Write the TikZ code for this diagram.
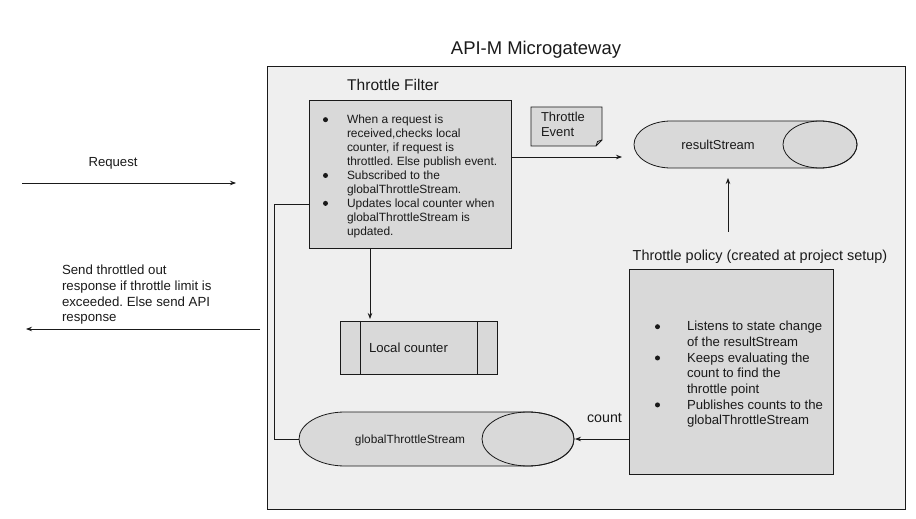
\documentclass[tikz,border=0pt]{standalone}
\usepackage{fontspec}
\setmainfont{Liberation Sans}
\usetikzlibrary{arrows.meta}
\frenchspacing
\definecolor{gwfill}{HTML}{EFEFEF}
\definecolor{boxfill}{HTML}{D9D9D9}
\definecolor{ink}{HTML}{1A1A1A}
\newcommand{\fsz}[2]{\fontsize{#1}{#2}\selectfont}
\newcommand{\blt}{\raisebox{0.25ex}{\tikz\fill[ink] (0,0) circle (2.5bp);}}
\begin{document}
\begin{tikzpicture}[x=1bp,y=-1bp,
  every node/.style={inner sep=0pt, outer sep=0pt, text=ink},
  line/.style={draw=ink, line width=0.8bp},
  arr/.style={line, -{Stealth[length=6bp,width=4.5bp]}},
  container/.style={draw=ink, line width=0.8bp, fill=gwfill},
  grey/.style={draw=ink, line width=0.8bp, fill=boxfill},
  blist/.style={anchor=north west, align=left},
]
\useasboundingbox (0,0) rectangle (916,519);
% gateway container
\node[container, minimum width=638bp, minimum height=443bp] (gw) at (586,287.5) {};
\node[font=\fsz{18.5}{22}] (title) at (536,50) {API-M Microgateway};

% Throttle filter
\node[font=\fsz{15.6}{18}] (ftitle) at (393,85) {Throttle Filter};
\node[grey, minimum width=202bp, minimum height=148bp] (filter) at (410,174) {};
\node[blist, font=\fsz{12}{14}] (ftext) at (323,114) {%
\begin{tabular}{@{}p{24bp}@{}l@{}}
\blt & When a request is\\
 & received,checks local\\
 & counter, if request is\\
 & throttled. Else publish event.\\
\blt & Subscribed to the\\
 & globalThrottleStream.\\
\blt & Updates local counter when\\
 & globalThrottleStream is\\
 & updated.
\end{tabular}};

% Throttle event note
\filldraw[grey] (531,107) -- (602,107) -- (602,140) -- (596,146) -- (531,146) -- cycle;
\draw[line] (596,146) -- (597.5,141.5) -- (602,140);
\node[blist, font=\fsz{13}{15}] (event) at (541,112.5) {Throttle\\Event};

% resultStream cylinder
\filldraw[grey] (671,121) -- (820,121) arc (-90:90:37 and 23.5) -- (671,168) arc (90:270:37 and 23.5) -- cycle;
\draw[line] (820,144.5) ellipse (37 and 23.5);
\node[font=\fsz{13}{15}] (rs) at (718,144.5) {resultStream};
\coordinate (rsW) at (634,157);
\coordinate (rsS) at (728,168);

% Throttle policy
\node[font=\fsz{14.5}{17}] (ptitle) at (760,257) {Throttle policy (created at project setup)};
\node[grey, minimum width=204bp, minimum height=205bp] (policy) at (731,371.5) {};
\node[blist, font=\fsz{13.2}{15.7}] (ptext) at (655,320) {%
\begin{tabular}{@{}p{32bp}@{}l@{}}
\blt & Listens to state change\\
 & of the resultStream\\
\blt & Keeps evaluating the\\
 & count to find the\\
 & throttle point\\
\blt & Publishes counts to the\\
 & globalThrottleStream
\end{tabular}};

% Local counter
\node[grey, minimum width=157bp, minimum height=53bp] (lc) at (418.5,347.5) {};
\draw[line] (360,321) -- (360,374) (477,321) -- (477,374);
\node[anchor=west, font=\fsz{13.2}{15}] (lctext) at (369,347.5) {Local counter};

% globalThrottleStream cylinder
\filldraw[grey] (345,412) -- (528,412) arc (-90:90:46 and 27) -- (345,466) arc (90:270:46 and 27) -- cycle;
\draw[line] (528,439) ellipse (46 and 27);
\node[font=\fsz{11.9}{14}] (gts) at (410,440) {globalThrottleStream};
\coordinate (gtsW) at (299,439);
\coordinate (gtsE) at (574,439);
\node[font=\fsz{14.3}{16}] (count) at (604.5,418) {count};

% connectors
\draw[arr, shorten >=12bp] (filter.east |- rsW) -- (rsW);
\draw[arr, shorten >=10bp] (728,232) -- (rsS);
\draw[arr, shorten >=2bp] (filter.south -| 370,0) -- (lc.north -| 370,0);
\draw[arr, shorten >=1bp] (policy.west |- gtsE) -- (gtsE);
\coordinate (fb) at (274,204);
\draw[line] (gtsW) -| (fb) -- (filter.west |- fb);

% outside request / response
\coordinate (reqA) at (22,183);
\coordinate (reqB) at (236,183);
\draw[arr] (reqA) -- (reqB);
\node[font=\fsz{13.2}{15}] (req) at (113,163) {Request};
\coordinate (resA) at (260,329);
\coordinate (resB) at (26,329);
\draw[arr] (resA) -- (resB);
\node[blist, font=\fsz{13.3}{15.8}] (res) at (62,265) {Send throttled out\\response if throttle limit is\\exceeded. Else send API\\response};
\end{tikzpicture}
\end{document}
